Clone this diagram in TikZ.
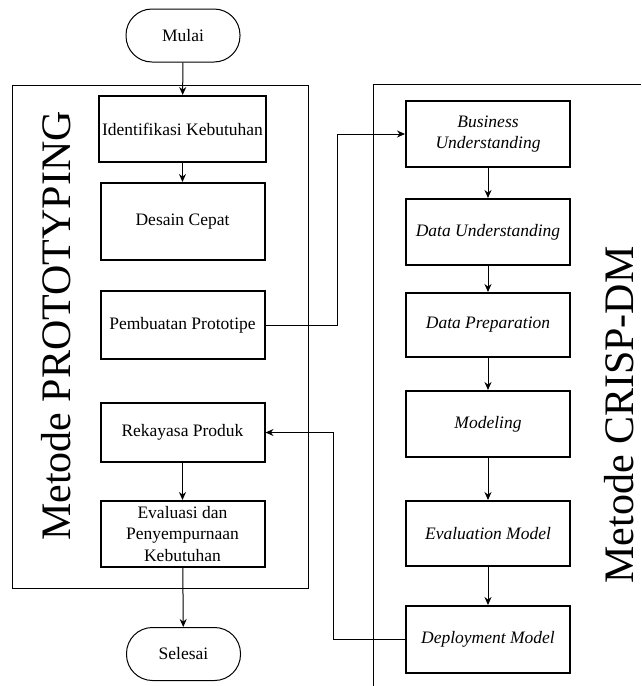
\documentclass[tikz,border=0pt]{standalone}
\usepackage{fontspec}
\setmainfont{Liberation Serif}
\usepackage{tikz}
\usetikzlibrary{arrows.meta}

\begin{document}
\begin{tikzpicture}[
        x=1pt, y=-1pt,
        line width=1pt,
        >={Stealth[length=8pt,width=7pt]},
        box/.style={
            draw, line width=2pt, minimum width=164pt, inner sep=3pt,
            align=center, font=\fontsize{17.5}{21.5}\selectfont
        },
        stage/.style={
            box, font=\fontsize{17.5}{21.5}\selectfont\itshape
        },
        terminal/.style={
            draw, rounded corners=26pt, minimum width=114pt, minimum height=53pt,
            font=\fontsize{17.5}{21.5}\selectfont
        },
        method/.style={rotate=90, font=\fontsize{42}{50}\selectfont},
        ]
        \useasboundingbox (0,0) rectangle (641,686);

        % frames
        \draw (12.7,85) rectangle (308,588);
        \draw (641,84) -| (373,686);
        \node[method] (proto) at (56,326) {Metode PROTOTYPING};
        \node[method] (crisp) at (619,415) {Metode CRISP-DM};

        % prototyping
        \node[terminal] (mulai) at (183,35.5) {Mulai};
        \node[box, minimum height=66pt] (ident) at (182.5,129) {Identifikasi Kebutuhan};
        \node[box, minimum height=77pt] (desain) at (182.5,221.5) {Desain Cepat};
        \node[box, minimum height=68pt] (buat) at (182.5,325) {Pembuatan Prototipe};
        \node[box, minimum height=59pt] (rekayasa) at (182.5,432.5) {Rekayasa Produk};
        \node[box, minimum height=66pt] (evaluasi) at (182.5,534) {Evaluasi dan\\Penyempurnaan\\Kebutuhan};
        \node[terminal] (selesai) at (183.5,654) {Selesai};

        \draw[->] (mulai) -- (ident);
        \draw[->] (ident) -- (desain);
        \draw[->] (rekayasa) -- (evaluasi);
        \draw[->] (evaluasi) -- (selesai);

        % crisp-dm
        \node[stage, minimum height=66pt] (business) at (488,134) {Business\\Understanding};
        \node[stage, minimum height=66pt] (dataund) at (488,232) {Data Understanding};
        \node[stage, minimum height=64pt] (dataprep) at (488,325) {Data Preparation};
        \node[stage, minimum height=66pt] (modeling) at (488,424) {Modeling};
        \node[stage, minimum height=65pt] (evalmodel) at (488,533.5) {Evaluation Model};
        \node[stage, minimum height=67pt] (deploy) at (488,639.5) {Deployment Model};

        \foreach \from/\to in {business/dataund, dataund/dataprep, dataprep/modeling,
                modeling/evalmodel, evalmodel/deploy}
            \draw[->] (\from) -- (\to);

        \draw[->] (buat.east) -- ++(72,0) |- (business.west);
        \draw[->] (deploy.west) -- ++(-72,0) |- (rekayasa.east);
    \end{tikzpicture}
\end{document}
